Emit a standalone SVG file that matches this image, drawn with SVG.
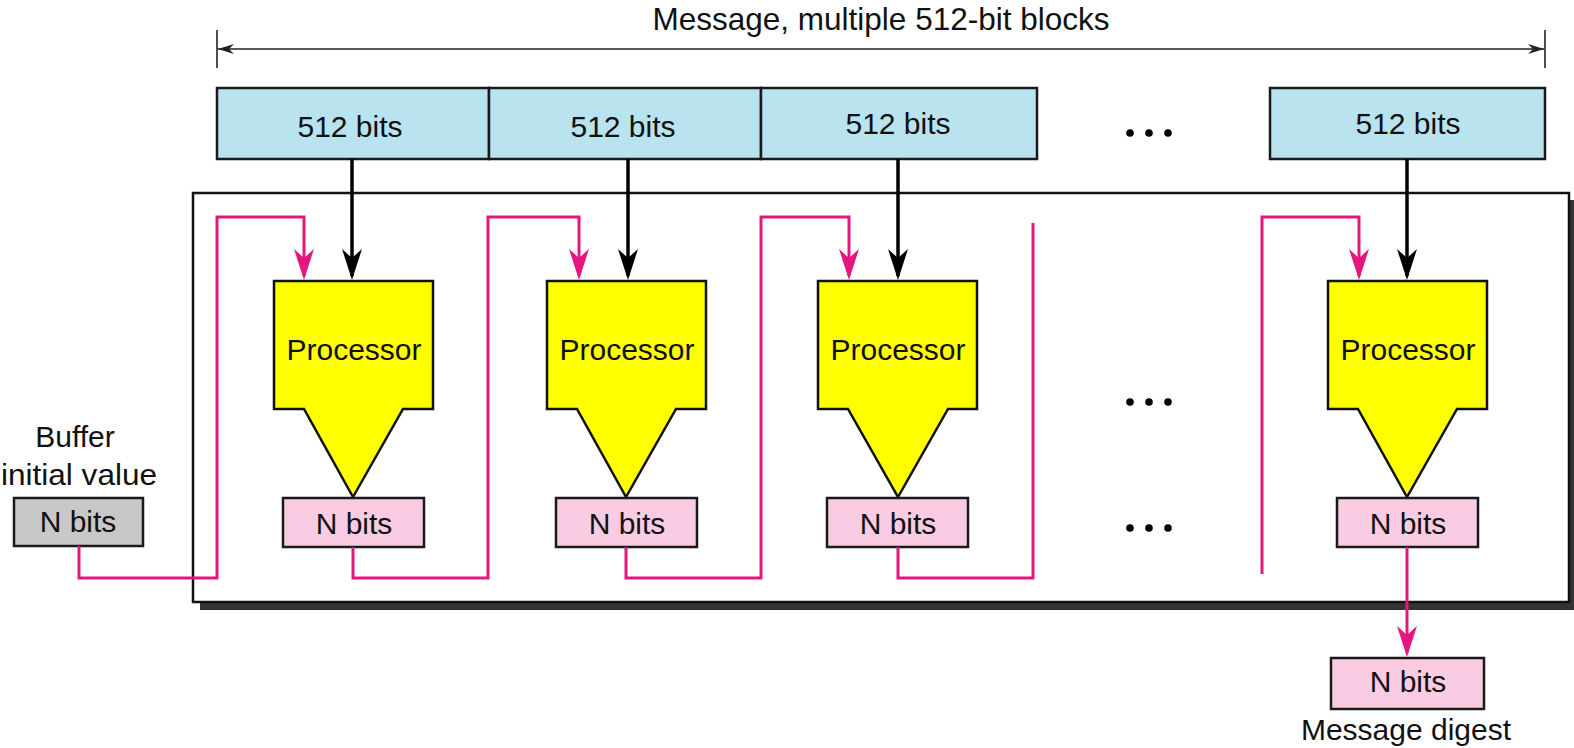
<svg xmlns="http://www.w3.org/2000/svg" width="1574" height="748" viewBox="0 0 1574 748">
  <style>
    text { font-family: "Liberation Sans", Arial, sans-serif; font-size: 30px; fill: #111; text-anchor: middle; }
    .title { font-size: 31.5px; }
    .block { fill: #b9e3ee; stroke: #1a1a1a; stroke-width: 2.5; }
    .proc { fill: #ffff00; stroke: #111; stroke-width: 2.5; stroke-linejoin: miter; }
    .reg { fill: #f9cce3; stroke: #1a1a1a; stroke-width: 2.5; }
    .init { fill: #c8c8c8; stroke: #1a1a1a; stroke-width: 2.5; }
    .feed { fill: none; stroke: #e5177d; stroke-width: 3; }
    .data { fill: none; stroke: #000; stroke-width: 3.5; }
    .dim { fill: none; stroke: #222; stroke-width: 1.6; }
    .dot { fill: #000; }
  </style>
  <defs>
    <marker id="headBlack" markerUnits="userSpaceOnUse" viewBox="-32 -12 34 24" refX="-4" refY="0" markerWidth="34" markerHeight="24" orient="auto">
      <path d="M0,0 L-31,-10 L-22,0 L-31,10 Z" fill="#000"/>
    </marker>
    <marker id="headPink" markerUnits="userSpaceOnUse" viewBox="-32 -12 34 24" refX="-4" refY="0" markerWidth="34" markerHeight="24" orient="auto">
      <path d="M0,0 L-31,-10 L-22,0 L-31,10 Z" fill="#e5177d"/>
    </marker>
    <marker id="headDim" markerUnits="userSpaceOnUse" viewBox="-18 -6 20 12" refX="0" refY="0" markerWidth="20" markerHeight="12" orient="auto-start-reverse">
      <path d="M0,0 L-16,-5 L-11,0 L-16,5 Z" fill="#222"/>
    </marker>
  </defs>

  <rect width="1574" height="748" fill="#fff"/>

  <!-- message length dimension -->
  <g id="message-span">
    <text class="title" x="881" y="30">Message, multiple 512-bit blocks</text>
    <line class="dim" x1="217" y1="30" x2="217" y2="68"/>
    <line class="dim" x1="1545" y1="30" x2="1545" y2="68"/>
    <line class="dim" x1="218" y1="49" x2="1544" y2="49" marker-start="url(#headDim)" marker-end="url(#headDim)"/>
  </g>

  <!-- message blocks -->
  <g id="block1"><rect class="block" x="217" y="88" width="272" height="71"/><text x="350" y="137">512 bits</text></g>
  <g id="block2"><rect class="block" x="489" y="88" width="272" height="71"/><text x="623" y="137">512 bits</text></g>
  <g id="block3"><rect class="block" x="761" y="88" width="276" height="71"/><text x="898" y="134">512 bits</text></g>
  <g id="block-dots"><circle class="dot" cx="1130" cy="133" r="3.8"/><circle class="dot" cx="1149" cy="133" r="3.8"/><circle class="dot" cx="1168" cy="133" r="3.8"/></g>
  <g id="blockN"><rect class="block" x="1270" y="88" width="275" height="71"/><text x="1408" y="134">512 bits</text></g>

  <!-- enclosing frame with drop shadow -->
  <g id="frame">
    <rect x="200" y="200" width="1376" height="410" fill="#333"/>
    <rect x="193" y="193" width="1376" height="409" fill="#fff" stroke="#111" stroke-width="2.5"/>
  </g>

  <!-- initial buffer -->
  <g id="buffer-init">
    <text x="75" y="447">Buffer</text>
    <text x="79" y="485" textLength="156" lengthAdjust="spacingAndGlyphs">initial value</text>
    <rect class="init" x="14" y="498" width="129" height="48"/>
    <text x="78" y="532">N bits</text>
  </g>

  <!-- processors -->
  <g id="proc1">
    <path class="proc" d="M274,281 H433 V409 H403 L353,497 L304,409 H274 Z"/>
    <text x="354" y="360">Processor</text>
  </g>
  <g id="proc2">
    <path class="proc" d="M547,281 H706 V409 H676 L626,497 L577,409 H547 Z"/>
    <text x="627" y="360">Processor</text>
  </g>
  <g id="proc3">
    <path class="proc" d="M818,281 H977 V409 H948 L898,497 L848,409 H818 Z"/>
    <text x="898" y="360">Processor</text>
  </g>
  <g id="procN">
    <path class="proc" d="M1328,281 H1487 V409 H1457 L1407,497 L1358,409 H1328 Z"/>
    <text x="1408" y="360">Processor</text>
  </g>

  <!-- chaining registers -->
  <g id="reg1"><rect class="reg" x="283" y="498" width="141" height="49"/><text x="354" y="534">N bits</text></g>
  <g id="reg2"><rect class="reg" x="556" y="498" width="141" height="49"/><text x="627" y="534">N bits</text></g>
  <g id="reg3"><rect class="reg" x="827" y="498" width="141" height="49"/><text x="898" y="534">N bits</text></g>
  <g id="regN"><rect class="reg" x="1337" y="498" width="141" height="49"/><text x="1408" y="534">N bits</text></g>

  <g id="mid-dots">
    <circle class="dot" cx="1130" cy="402" r="3.8"/><circle class="dot" cx="1149" cy="402" r="3.8"/><circle class="dot" cx="1168" cy="402" r="3.8"/>
    <circle class="dot" cx="1130" cy="528" r="3.8"/><circle class="dot" cx="1149" cy="528" r="3.8"/><circle class="dot" cx="1168" cy="528" r="3.8"/>
  </g>

  <!-- digest output -->
  <g id="digest">
    <rect class="reg" x="1331" y="658" width="153" height="51"/>
    <text x="1408" y="692">N bits</text>
    <text x="1406" y="740">Message digest</text>
  </g>

  <!-- connectors -->
  <g id="connectors">
    <path class="data" d="M352,159 V276" marker-end="url(#headBlack)"/>
    <path class="data" d="M628,159 V276" marker-end="url(#headBlack)"/>
    <path class="data" d="M898,159 V276" marker-end="url(#headBlack)"/>
    <path class="data" d="M1407,159 V276" marker-end="url(#headBlack)"/>

    <path class="feed" d="M79,546 V578 H217 V217 H304 V276" marker-end="url(#headPink)"/>
    <path class="feed" d="M353,547 V578 H488 V217 H579 V276" marker-end="url(#headPink)"/>
    <path class="feed" d="M626,547 V578 H761 V217 H849 V276" marker-end="url(#headPink)"/>
    <path class="feed" d="M898,547 V578 H1033 V223"/>
    <path class="feed" d="M1262,574 V217 H1359 V276" marker-end="url(#headPink)"/>
    <path class="feed" d="M1407,547 V653" stroke-width="3.5" marker-end="url(#headPink)"/>
  </g>
</svg>
